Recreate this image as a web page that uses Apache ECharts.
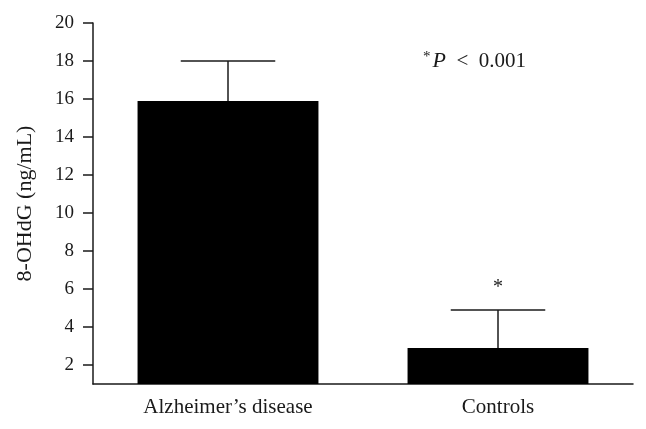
<!DOCTYPE html>
<html>
<head>
<meta charset="utf-8">
<script src="https://cdn.jsdelivr.net/npm/echarts@6/dist/echarts.min.js"></script>
<style>
  html, body { margin: 0; padding: 0; background: #fff; }
  #main { width: 646px; height: 429px; }
</style>
</head>
<body>
<div id="main"></div>
<script>
// data
var groups = ['Alzheimer\u2019s disease', 'Controls'];
var means = [15.9, 2.9];
var errs = [2.1, 2.0];          // upper error (SD)
var sigMarks = ['', '*'];
var yTicks = [2, 4, 6, 8, 10, 12, 14, 16, 18, 20];

var serif = '"Liberation Serif", "DejaVu Serif", serif';
var ink = '#1a1a1a';

var chart = echarts.init(document.getElementById('main'));

var option = {
  backgroundColor: '#fff',
  animation: false,
  grid: { left: 93, right: 13, top: 23, bottom: 45 },
  xAxis: {
    type: 'category',
    data: groups,
    axisLine: { lineStyle: { color: ink, width: 1.5 } },
    axisTick: { alignWithLabel: true, length: 7, lineStyle: { color: ink, width: 1.5 } },
    axisLabel: { color: ink, fontFamily: serif, fontSize: 21, margin: 13 }
  },
  yAxis: {
    type: 'value',
    min: 1,
    max: 20,
    name: '8-OHdG (ng/mL)',
    nameLocation: 'middle',
    nameGap: 57,
    nameTextStyle: { color: ink, fontFamily: serif, fontSize: 22 },
    splitLine: { show: false },
    axisLine: { show: true, lineStyle: { color: ink, width: 1.5 } },
    axisTick: { show: true, length: 10, customValues: yTicks, lineStyle: { color: ink, width: 1.5 } },
    axisLabel: { color: ink, fontFamily: serif, fontSize: 19, margin: 19, customValues: yTicks }
  },
  series: [
    {
      type: 'bar',
      data: means,
      barWidth: '67%',
      itemStyle: { color: '#000' },
      z: 2
    },
    {
      type: 'custom',
      z: 3,
      data: means.map(function (m, i) { return [i, m, m + errs[i]]; }),
      renderItem: function (params, api) {
        var i = api.value(0);
        var base = api.coord([i, api.value(1)]);
        var top = api.coord([i, api.value(2)]);
        var half = api.size([1, 0])[0] * 0.175;
        var style = { stroke: ink, lineWidth: 1.5 };
        var children = [
          { type: 'line', shape: { x1: base[0], y1: base[1], x2: top[0], y2: top[1] }, style: style },
          { type: 'line', shape: { x1: top[0] - half, y1: top[1], x2: top[0] + half, y2: top[1] }, style: style }
        ];
        if (sigMarks[i]) {
          children.push({
            type: 'text',
            x: top[0], y: top[1] - 22,
            style: { text: sigMarks[i], fill: ink, font: '20px ' + serif, align: 'center', verticalAlign: 'middle' }
          });
        }
        return { type: 'group', children: children };
      }
    }
  ],
  graphic: [
    {
      type: 'text',
      left: 423,
      top: 50,
      style: {
        text: '{s|*}{p|P}  <  0.001',
        fill: ink,
        font: '21px ' + serif,
        rich: {
          s: { fontSize: 15, fontFamily: serif, verticalAlign: 'top', padding: [0, 2, 8, 0] },
          p: { fontSize: 22, fontFamily: serif, fontStyle: 'italic' }
        }
      }
    }
  ]
};

chart.setOption(option);
</script>
</body>
</html>
